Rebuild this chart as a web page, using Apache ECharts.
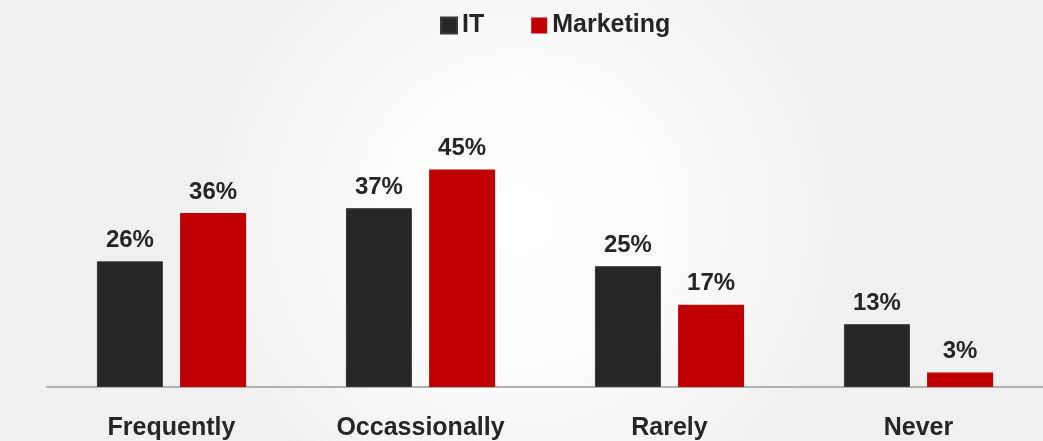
<!DOCTYPE html>
<html>
<head>
<meta charset="utf-8">
<script src="https://cdn.jsdelivr.net/npm/echarts@6/dist/echarts.min.js"></script>
<style>html,body{margin:0;padding:0;}#c{width:1043px;height:441px;}</style>
</head>
<body>
<div id="c"></div>
<script>
const categories = ['Frequently', 'Occassionally', 'Rarely', 'Never'];
const itValues = [26, 37, 25, 13];
const marketingValues = [36, 45, 17, 3];
const seriesNames = ['IT', 'Marketing'];

const chart = echarts.init(document.getElementById('c'));
const font = '"Liberation Sans", Arial, sans-serif';
const labelStyle = {
  show: true, position: 'top', distance: 9,
  formatter: p => p.value + '%',
  fontFamily: font, fontWeight: 'bold', fontSize: 24, color: '#262626'
};
chart.setOption({
  backgroundColor: {
    type: 'radial', x: 0.5, y: 0.5, r: 0.75,
    colorStops: [{offset: 0, color: '#ffffff'}, {offset: 0.45, color: '#fcfcfc'}, {offset: 1, color: '#f0f0f0'}]
  },
  animation: false,
  legend: {
    left: 435, top: 8,
    itemWidth: 16, itemHeight: 16, itemGap: 47,
    icon: 'rect',
    textStyle: {fontFamily: font, fontWeight: 'bold', fontSize: 25, color: '#262626'},
    data: seriesNames
  },
  grid: {left: 47, right: -1, top: 97, bottom: 54},
  xAxis: {
    type: 'category', data: categories,
    axisLine: {lineStyle: {color: '#b0b0b0', width: 2}},
    axisTick: {show: false},
    axisLabel: {margin: 29, fontFamily: font, fontWeight: 'bold', fontSize: 25, color: '#262626'}
  },
  yAxis: {
    type: 'value', min: 0, max: 60, show: false,
    splitLine: {show: false}
  },
  series: [
    {
      name: seriesNames[0], type: 'bar', data: itValues,
      barWidth: 66, barGap: '26%',
      itemStyle: {color: '#262626', borderColor: '#3a3a3a', borderWidth: 1},
      label: labelStyle
    },
    {
      name: seriesNames[1], type: 'bar', data: marketingValues,
      barWidth: 66,
      itemStyle: {color: '#c00000'},
      label: labelStyle
    }
  ]
});
</script>
</body>
</html>
